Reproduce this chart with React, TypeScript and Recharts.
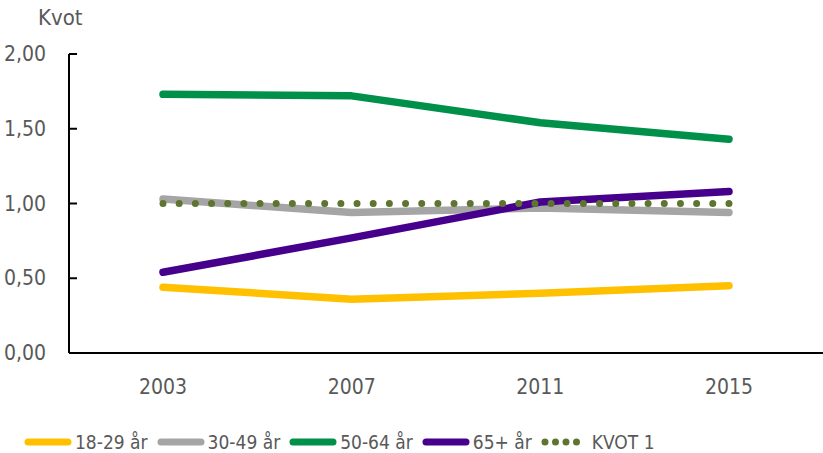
import { LineChart, Line, XAxis, YAxis, Legend } from "recharts";

const years = ["2003", "2007", "2011", "2015"];
const age18to29 = [0.44, 0.36, 0.4, 0.45];
const age30to49 = [1.03, 0.94, 0.97, 0.94];
const age50to64 = [1.73, 1.72, 1.54, 1.43];
const age65plus = [0.54, 0.77, 1.01, 1.08];
const kvot1 = [1, 1, 1, 1];
const yTicks = [0, 0.5, 1, 1.5, 2];

const FONT = "'Liberation Sans Narrow', 'DejaVu Sans Condensed', 'DejaVu Sans', sans-serif";
const GREY_TEXT = "#595959";

const series = [
  { key: "a", name: "18-29 år", color: "#FFC000", values: age18to29 },
  { key: "b", name: "30-49 år", color: "#A5A5A5", values: age30to49 },
  { key: "c", name: "50-64 år", color: "#00904A", values: age50to64 },
  { key: "d", name: "65+ år", color: "#46008C", values: age65plus },
];

const data = years.map((y, i) => ({
  year: y,
  a: age18to29[i],
  b: age30to49[i],
  c: age50to64[i],
  d: age65plus[i],
  k: kvot1[i],
}));

const fmt = (v: number) => v.toFixed(2).replace(".", ",");

// y tick: label to the left, short tick mark pointing into the plot
const YTick = ({ x, y, payload }: any) => (
  <g>
    <text x={x} y={y} dy={7} textAnchor="end" fill={GREY_TEXT} fontSize={21} fontFamily={FONT} style={{ fontStretch: "condensed" }}>
      {fmt(payload.value)}
    </text>
    <line x1={x + 23} x2={x + 31} y1={y} y2={y} stroke="#000" strokeWidth={2} />
  </g>
);

const LegendContent = () => {
  const items = [
    ...series.map(s => ({ name: s.name, color: s.color, dotted: false })),
    { name: "KVOT 1", color: "#5E7530", dotted: true },
  ];
  return (
    <div style={{ display: "flex", alignItems: "center", fontFamily: FONT, fontStretch: "condensed", fontSize: 19, color: GREY_TEXT, paddingLeft: 24 }}>
      {items.map(it => (
        <div key={it.name} style={{ display: "flex", alignItems: "center", marginRight: 9 }}>
          <svg width={48} height={12} style={{ marginRight: 3 }}>
            {it.dotted ? (
              <line x1={4} x2={46} y1={6} y2={6} stroke={it.color} strokeWidth={7} strokeLinecap="round" strokeDasharray="0 10.5" />
            ) : (
              <line x1={4} x2={44} y1={6} y2={6} stroke={it.color} strokeWidth={7} strokeLinecap="round" />
            )}
          </svg>
          <span>{it.name}</span>
        </div>
      ))}
    </div>
  );
};

export default function App() {
  return (
    <div style={{ position: "absolute", left: 0, top: 0, width: 823, height: 453, background: "#fff" }}>
      <div style={{ position: "absolute", left: 38, top: 5, fontFamily: FONT, fontStretch: "condensed", fontSize: 22, color: GREY_TEXT }}>Kvot</div>
      <LineChart width={823} height={453} data={data} margin={{ top: 54, right: 0, left: 0, bottom: 18 }}>
        <XAxis
          dataKey="year"
          axisLine={{ stroke: "#000", strokeWidth: 2 }}
          tickLine={false}
          tickMargin={20}
          height={60}
          padding={{ left: 94, right: 94 }}
          tick={{ fill: GREY_TEXT, fontSize: 21, fontFamily: FONT, style: { fontStretch: "condensed" } }}
        />
        <YAxis
          domain={[0, 2]}
          ticks={yTicks}
          width={69}
          axisLine={{ stroke: "#000", strokeWidth: 2 }}
          tickLine={false}
          tickSize={0}
          tickMargin={23}
          tick={<YTick />}
          interval={0}
        />
        <Legend verticalAlign="bottom" align="left" content={<LegendContent />} wrapperStyle={{ bottom: 0 }} />
        {series.map(s => (
          <Line
            key={s.key}
            dataKey={s.key}
            name={s.name}
            stroke={s.color}
            strokeWidth={7.5}
            strokeLinecap="round"
            strokeLinejoin="round"
            dot={false}
            activeDot={false}
            isAnimationActive={false}
          />
        ))}
        <Line
          dataKey="k"
          name="KVOT 1"
          stroke="#5E7530"
          strokeWidth={7}
          strokeLinecap="round"
          strokeDasharray="0 16.17"
          dot={false}
          activeDot={false}
          isAnimationActive={false}
        />
      </LineChart>
    </div>
  );
}
